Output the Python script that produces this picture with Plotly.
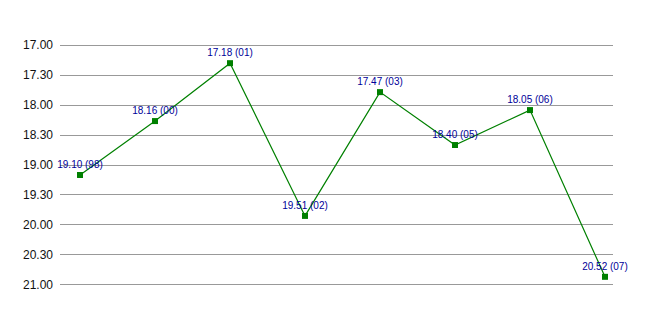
import plotly.graph_objects as go

years = ["98", "00", "01", "02", "03", "05", "06", "07"]
times = ["19.10", "18.16", "17.18", "19.51", "17.47", "18.40", "18.05", "20.52"]
tick_labels = ["17.00", "17.30", "18.00", "18.30", "19.00", "19.30", "20.00", "20.30", "21.00"]

def to_minutes(s):
    m, sec = s.split(".")
    return int(m) + int(sec) / 60.0

values = [to_minutes(t) for t in times]
tick_vals = [to_minutes(t) for t in tick_labels]
labels = [f"{t} ({y})" for t, y in zip(times, years)]
xs = list(range(len(years)))

fig = go.Figure()
fig.add_trace(go.Scatter(
    x=xs, y=values, mode="lines+markers+text",
    line=dict(color="#008000", width=1.2),
    marker=dict(symbol="square", size=6, color="#008000"),
    text=labels, textposition="top center",
    textfont=dict(family="Liberation Sans, Arial", size=10, color="#000099"),
    cliponaxis=False, hoverinfo="skip",
))

fig.update_layout(
    width=653, height=315,
    margin=dict(l=60, r=40, t=44, b=29),
    paper_bgcolor="white", plot_bgcolor="white",
    showlegend=False,
    xaxis=dict(range=[-0.267, 7.107], showgrid=False, zeroline=False,
               showticklabels=False, showline=False, ticks=""),
    yaxis=dict(range=[21.02, 16.98], tickvals=tick_vals, ticktext=tick_labels,
               showgrid=True, gridcolor="#999999", gridwidth=1,
               zeroline=False, showline=False, ticks="",
               ticklabelstandoff=6,
               tickfont=dict(family="Liberation Sans Narrow, Arial Narrow, Liberation Sans", size=12, color="#111111")),
)

fig.write_html("out.html")
